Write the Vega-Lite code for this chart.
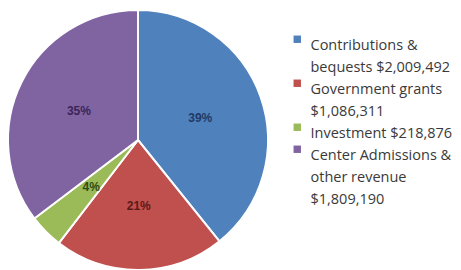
{
  "$schema": "https://vega.github.io/schema/vega-lite/v6.json",
  "autosize": {"type": "none"},
  "padding": {"left": 8, "top": 10, "right": 193, "bottom": 0},
  "width": 260,
  "height": 260,
  "background": "white",
  "config": {"view": {"stroke": null}, "style": {"guide-label": {"lineHeight": 22}}},
  "data": {
    "values": [
      {"source": "Contributions &|bequests $2,009,492", "amount": 2009492, "pct": "39%", "order": 1},
      {"source": "Government grants|$1,086,311", "amount": 1086311, "pct": "21%", "order": 2},
      {"source": "Investment $218,876", "amount": 218876, "pct": "4%", "order": 3},
      {"source": "Center Admissions &|other revenue|$1,809,190", "amount": 1809190, "pct": "35%", "order": 4}
    ]
  },
  "layer": [
    {
      "mark": {"type": "arc", "outerRadius": 130, "stroke": "white", "strokeWidth": 2},
      "encoding": {
        "theta": {"field": "amount", "type": "quantitative", "stack": true},
        "order": {"field": "order", "type": "quantitative"},
        "color": {
          "field": "source",
          "type": "nominal",
          "sort": null,
          "scale": {
            "domain": ["Contributions &|bequests $2,009,492", "Government grants|$1,086,311", "Investment $218,876", "Center Admissions &|other revenue|$1,809,190"],
            "range": ["#4F81BD", "#C0504D", "#9BBB59", "#8064A2"]
          },
          "legend": {
            "orient": "none",
            "legendX": 282,
            "legendY": 22,
            "title": null,
            "symbolType": "square",
            "symbolSize": 55,
            "symbolStrokeWidth": 0,
            "labelFont": "Open Sans",
            "labelFontSize": 14.5,
            "labelColor": "#3a3a3a",
            "labelLimit": 300,
            "labelBaseline": "top",
            "labelOffset": 6,
            "rowPadding": 1,
            "labelExpr": "split(datum.label, '|')"
          }
        }
      }
    },
    {
      "mark": {"type": "text", "radius": 66, "fontWeight": "bold", "fontSize": 12, "font": "Liberation Sans"},
      "encoding": {
        "theta": {"field": "amount", "type": "quantitative", "stack": true},
        "order": {"field": "order", "type": "quantitative"},
        "text": {"field": "pct", "type": "nominal"},
        "color": {
          "field": "source",
          "type": "nominal",
          "sort": null,
          "scale": {
            "domain": ["Contributions &|bequests $2,009,492", "Government grants|$1,086,311", "Investment $218,876", "Center Admissions &|other revenue|$1,809,190"],
            "range": ["#1F3A66", "#5A1A1A", "#2F4A10", "#3A2558"]
          },
          "legend": null
        }
      }
    }
  ],
  "resolve": {"scale": {"color": "independent"}}
}
